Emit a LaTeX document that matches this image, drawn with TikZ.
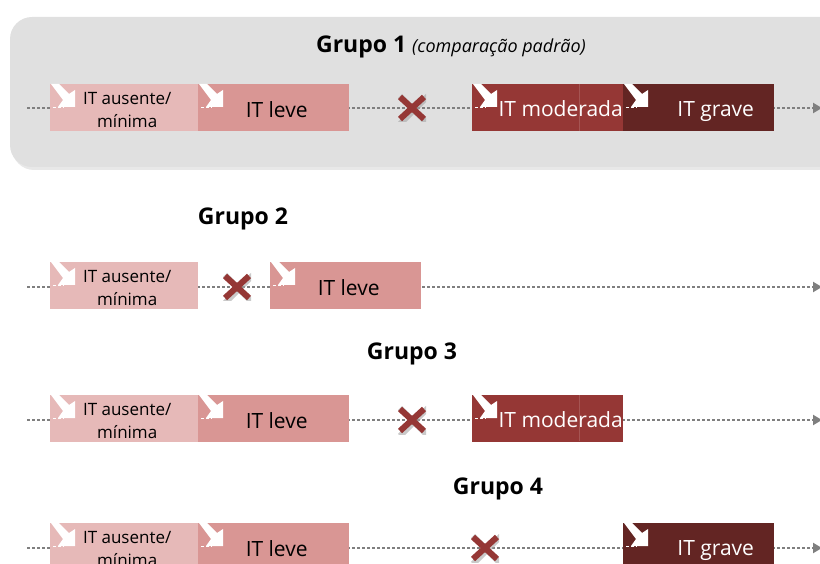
\documentclass[tikz,border=0pt]{standalone}
\usepackage{fontspec}
\setmainfont{Open Sans}
\usetikzlibrary{arrows.meta,shadows,calc}
\definecolor{bgGray}{HTML}{E0E0E0}
\definecolor{cAus}{HTML}{E6B9B8}
\definecolor{cLeve}{HTML}{D99694}
\definecolor{cMod}{HTML}{953735}
\definecolor{cGrave}{HTML}{632523}
\definecolor{lineGray}{HTML}{7F7F7F}
\tikzset{
  sevbox/.style={draw=none, inner sep=0pt, minimum height=47pt, anchor=north west},
  wbox/.style={sevbox, minimum width=151pt},
  abox/.style={sevbox, minimum width=148pt},
  dotline/.style={lineGray, line width=2.8pt, dash pattern=on 2.8pt off 2.2pt},
  dotarrow/.style={dotline, -{Triangle[length=9pt,width=10pt,sep=-1pt]}},
  title/.style={font=\fontsize{23}{26}\selectfont\bfseries, inner sep=0pt},
  lbl/.style={inner sep=0pt, align=center},
  ausfont/.style={lbl, font=\fontsize{17}{23}\selectfont},
  bigfont/.style={lbl, font=\fontsize{21}{24}\selectfont},
  xmark/.style={minimum size=28pt, inner sep=0pt, path picture={
    \draw[black!35, line width=6pt, opacity=0.6] ($(path picture bounding box.south west)+(2pt,-2pt)$) -- ($(path picture bounding box.north east)+(2pt,-2pt)$);
    \draw[black!35, line width=6pt, opacity=0.6] ($(path picture bounding box.north west)+(2pt,-2pt)$) -- ($(path picture bounding box.south east)+(2pt,-2pt)$);
    \draw[cMod, line width=6pt] ($(path picture bounding box.south west)+(2pt,3pt)$) -- ($(path picture bounding box.north east)+(-2pt,-3pt)$);
    \draw[cMod, line width=6pt] ($(path picture bounding box.north west)+(2pt,-3pt)$) -- ($(path picture bounding box.south east)+(-2pt,3pt)$);
  }},
}
\newcommand{\warrow}[1]{%
  \fill[white] ($(#1.north west)+(1pt,0pt)$) -- ($(#1.north west)+(9pt,0pt)$) -- ($(#1.north west)+(19pt,-10pt)$) -- ($(#1.north west)+(25pt,-6pt)$) -- ($(#1.north west)+(25pt,-23pt)$) -- ($(#1.north west)+(8pt,-23pt)$) -- ($(#1.north west)+(13pt,-16pt)$) -- cycle;
  \draw[white, line width=1.2pt, dash pattern=on 3pt off 2pt] ($(#1.north west)+(3pt,-23.5pt)$) -- ($(#1.north west)+(14pt,-23.5pt)$);
}
\begin{document}
\begin{tikzpicture}[x=1pt,y=-1pt]
\useasboundingbox (0,0) rectangle (820,564);
% background panel group 1
\fill[black!18, opacity=0.5, rounded corners=22pt] (12,20) rectangle (860,170);
\fill[bgGray, rounded corners=22pt] (10,17) rectangle (860,167);
\node[title] (t1) at (451,47) {Grupo 1 {\mdseries\itshape\fontsize{18}{20}\selectfont (comparação padrão)}};
\node[title] (t2) at (243,219) {Grupo 2};
\node[title] (t3) at (412,354) {Grupo 3};
\node[title] (t4) at (498,489) {Grupo 4};
% line coordinates
\coordinate (s1) at (27,108); \coordinate (e1) at (821,108);
\coordinate (s2) at (27,287); \coordinate (e2) at (821,287);
\coordinate (s3) at (27,420); \coordinate (e3) at (821,420);
\coordinate (s4) at (27,548); \coordinate (e4) at (821,548);
\draw[dotarrow] (s1) -- (e1);
\draw[dotarrow] (s2) -- (e2);
\draw[dotarrow] (s3) -- (e3);
\draw[dotarrow] (s4) -- (e4);
% row 1
\node[abox, fill=cAus] (a1) at (50,84) {};
\node[wbox, fill=cLeve] (l1) at (198,84) {};
\node[wbox, fill=cMod] (m1) at (472,84) {};
\node[wbox, fill=cGrave] (g1) at (623,84) {};
\draw[cMod!85!white, line width=0.6pt] (579,84) -- (579,131);
% row 2
\node[abox, fill=cAus] (a2) at (50,262) {};
\node[wbox, fill=cLeve] (l2) at (270,262) {};
% row 3
\node[abox, fill=cAus] (a3) at (50,395) {};
\node[wbox, fill=cLeve] (l3) at (198,395) {};
\node[wbox, fill=cMod] (m3) at (472,395) {};
\draw[cMod!85!white, line width=0.6pt] (579,395) -- (579,441);
% row 4
\node[abox, fill=cAus] (a4) at (50,523) {};
\node[wbox, fill=cLeve] (l4) at (198,523) {};
\node[wbox, fill=cGrave] (g4) at (623,523) {};
% white arrows
\foreach \b in {a1,l1,m1,g1,a2,l2,a3,l3,m3,a4,l4,g4} {\warrow{\b}}
% crosses
\node[xmark] (x1) at (412,108) {};
\node[xmark] (x2) at (237,287) {};
\node[xmark] (x3) at (412,420) {};
\node[xmark] (x4) at (485,548) {};
% labels
\node[ausfont] (ta1) at ($(a1.center)+(3,2)$) {IT ausente/\\mínima};
\node[bigfont] (tl1) at ($(l1.center)+(3,2)$) {IT leve};
\node[bigfont, text=white] (tm1) at ($(m1.center)+(13,1)$) {IT moderada};
\node[bigfont, text=white] (tg1) at ($(g1.center)+(17,4)$) {IT grave};
\node[ausfont] (ta2) at ($(a2.center)+(3,2)$) {IT ausente/\\mínima};
\node[bigfont] (tl2) at ($(l2.center)+(3,2)$) {IT leve};
\node[ausfont] (ta3) at ($(a3.center)+(3,2)$) {IT ausente/\\mínima};
\node[bigfont] (tl3) at ($(l3.center)+(3,2)$) {IT leve};
\node[bigfont, text=white] (tm3) at ($(m3.center)+(13,1)$) {IT moderada};
\node[ausfont] (ta4) at ($(a4.center)+(3,2)$) {IT ausente/\\mínima};
\node[bigfont] (tl4) at ($(l4.center)+(3,2)$) {IT leve};
\node[bigfont, text=white] (tg4) at ($(g4.center)+(17,4)$) {IT grave};
\end{tikzpicture}
\end{document}
